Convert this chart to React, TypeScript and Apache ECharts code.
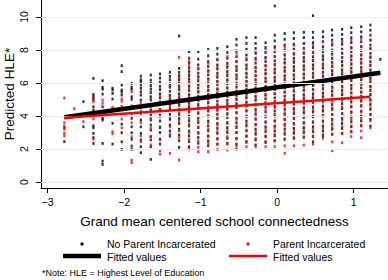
import React, { useEffect, useRef } from "react";
import * as echarts from "echarts";

const colX = [-2.78, -2.65, -2.53, -2.40, -2.28, -2.15, -2.03, -1.90, -1.78, -1.65, -1.53, -1.40, -1.28, -1.15, -1.03, -0.90, -0.78, -0.65, -0.53, -0.40, -0.28, -0.15, -0.03, 0.10, 0.22, 0.35, 0.47, 0.60, 0.72, 0.85, 0.97, 1.10, 1.22, 1.35];

const blackY: number[][] = [
  [2.45, 3.3],
  [],
  [4.87, 3.35],
  [6.28, 5.31, 5.17, 5.03, 4.56, 4.36, 3.41, 3.29, 2.95, 2.69, 2.34],
  [6.14, 5.74, 5.62, 5.33, 4.56, 3.86, 3.76, 2.34, 1.27, 1.07],
  [5.68, 5.58, 5.37, 5.03, 4.45, 3.56, 2.3],
  [7.05, 6.69, 5.88, 5.58, 5.45, 5.27, 4.56, 3.51, 2.99, 2.44, 1.98],
  [5.98, 5.75, 5.62, 5.17, 5.01, 4.16, 3.86, 3.35, 2.99, 2.59, 2.18, 1.98],
  [6.42, 6.2, 6.08, 5.88, 5.68, 5.47, 5.27, 4.97, 4.56, 4.16, 3.76, 3.35, 2.95, 2.55, 2.14, 1.78],
  [6.48, 6.18, 5.98, 5.82, 5.62, 5.42, 5.17, 4.97, 4.67, 4.36, 4.06, 3.76, 3.45, 3.15, 2.75, 2.55, 2.14, 1.37],
  [6.55, 6.3, 6.05, 5.8, 5.6, 5.35, 5.1, 4.85, 4.4, 4.05, 3.7, 3.3, 3.0, 2.6, 2.3],
  [6.65, 6.4, 6.2, 5.95, 5.75, 5.5, 5.25, 5.0, 4.7, 4.45, 4.1, 3.8, 3.45, 3.1, 2.79],
  [8.85, 6.89, 6.65, 6.45, 6.2, 6.0, 5.8, 5.6, 5.35, 5.1, 4.9, 4.65, 4.4, 4.1, 3.85, 3.55, 3.2, 2.85, 2.5, 2.1],
  [7.9, 7.5, 7.2, 6.9, 6.7, 6.45, 6.25, 6.0, 5.8, 5.55, 5.3, 5.05, 4.8, 4.55, 4.25, 4.0, 3.7, 3.4, 3.1, 2.8, 2.45, 2.14],
  [7.9, 7.45, 7.1, 6.85, 6.6, 6.35, 6.15, 5.9, 5.7, 5.45, 5.2, 4.95, 4.7, 4.45, 4.2, 3.9, 3.6, 3.3, 3.0, 2.7, 2.35],
  [8.04, 7.65, 7.3, 7.0, 6.75, 6.5, 6.25, 6.0, 5.8, 5.55, 5.3, 5.05, 4.8, 4.55, 4.3, 4.0, 3.7, 3.4, 3.1, 2.8, 2.5, 2.2],
  [8.1, 7.75, 7.4, 7.1, 6.85, 6.6, 6.35, 6.1, 5.9, 5.65, 5.4, 5.15, 4.9, 4.65, 4.4, 4.1, 3.85, 3.55, 3.25, 2.95, 2.6, 2.3],
  [8.2, 7.85, 7.5, 7.2, 6.95, 6.7, 6.45, 6.2, 5.95, 5.7, 5.45, 5.2, 4.95, 4.7, 4.45, 4.15, 3.9, 3.6, 3.3, 3.0, 2.65, 2.35],
  [8.65, 8.3, 7.95, 7.6, 7.3, 7.0, 6.75, 6.5, 6.25, 6.0, 5.75, 5.5, 5.25, 5.0, 4.75, 4.5, 4.2, 3.9, 3.6, 3.3, 3.0, 2.65, 2.3, 2.0],
  [8.75, 8.4, 8.05, 7.7, 7.4, 7.1, 6.85, 6.6, 6.35, 6.1, 5.85, 5.6, 5.35, 5.1, 4.85, 4.6, 4.3, 4.0, 3.7, 3.4, 3.1, 2.8, 2.45],
  [8.75, 8.4, 8.1, 7.8, 7.5, 7.2, 6.95, 6.7, 6.45, 6.2, 5.95, 5.7, 5.45, 5.2, 4.95, 4.7, 4.4, 4.1, 3.8, 3.5, 3.2, 2.9, 2.55, 2.25],
  [8.44, 8.15, 7.85, 7.55, 7.3, 7.05, 6.8, 6.55, 6.3, 6.05, 5.8, 5.55, 5.3, 5.05, 4.8, 4.55, 4.25, 3.95, 3.65, 3.35, 3.05, 2.75, 2.4],
  [10.67, 8.9, 8.55, 8.2, 7.9, 7.6, 7.35, 7.1, 6.85, 6.6, 6.35, 6.1, 5.85, 5.6, 5.35, 5.1, 4.85, 4.6, 4.3, 4.0, 3.7, 3.4, 3.1, 2.8, 2.5],
  [9.0, 8.65, 8.3, 8.0, 7.7, 7.45, 7.2, 6.95, 6.7, 6.45, 6.2, 5.95, 5.7, 5.45, 5.2, 4.95, 4.7, 4.4, 4.1, 3.8, 3.5, 3.2, 2.9, 2.6],
  [9.05, 8.7, 8.35, 8.05, 7.75, 7.5, 7.25, 7.0, 6.75, 6.5, 6.25, 6.0, 5.75, 5.5, 5.25, 5.0, 4.75, 4.45, 4.15, 3.85, 3.55, 3.25, 2.95, 2.65],
  [9.07, 8.75, 8.4, 8.1, 7.8, 7.55, 7.3, 7.05, 6.8, 6.55, 6.3, 6.05, 5.8, 5.55, 5.3, 5.05, 4.8, 4.5, 4.2, 3.9, 3.6, 3.3, 3.0, 2.7],
  [10.08, 9.07, 8.75, 8.45, 8.15, 7.85, 7.6, 7.35, 7.1, 6.85, 6.6, 6.35, 6.1, 5.85, 5.6, 5.35, 5.1, 4.85, 4.55, 4.25, 3.95, 3.65, 3.35, 3.05, 2.75, 2.44],
  [9.11, 8.8, 8.5, 8.2, 7.9, 7.65, 7.4, 7.15, 6.9, 6.65, 6.4, 6.15, 5.9, 5.65, 5.4, 5.15, 4.9, 4.6, 4.3, 4.0, 3.7, 3.4, 3.1, 2.8],
  [9.21, 8.9, 8.6, 8.3, 8.0, 7.75, 7.5, 7.25, 7.0, 6.75, 6.5, 6.25, 6.0, 5.75, 5.5, 5.25, 5.0, 4.7, 4.4, 4.1, 3.8, 3.5, 3.2, 2.9],
  [9.25, 8.95, 8.65, 8.35, 8.05, 7.8, 7.55, 7.3, 7.05, 6.8, 6.55, 6.3, 6.05, 5.8, 5.55, 5.3, 5.05, 4.75, 4.45, 4.15, 3.85, 3.55, 3.25, 2.95],
  [9.35, 9.05, 8.75, 8.45, 8.15, 7.9, 7.65, 7.4, 7.15, 6.9, 6.65, 6.4, 6.15, 5.9, 5.65, 5.4, 5.15, 4.85, 4.55, 4.25, 3.95, 3.65, 3.35, 3.05],
  [9.41, 9.1, 8.8, 8.5, 8.2, 7.95, 7.7, 7.45, 7.2, 6.95, 6.7, 6.45, 6.2, 5.95, 5.7, 5.45, 5.2, 4.9, 4.6, 4.3, 4.0, 3.7, 3.4],
  [9.51, 9.2, 8.9, 8.6, 8.3, 8.05, 7.8, 7.55, 7.3, 7.05, 6.8, 6.55, 6.3, 6.05, 5.8, 5.55, 5.3, 5.0, 4.7, 4.4, 4.1, 3.8, 3.39],
  [7.43],
];

const redY: number[][] = [
  [5.1, 3.6, 3.4, 3.2, 2.95, 2.8],
  [4.45],
  [3.66],
  [4.97, 4.87, 3.82, 2.59],
  [4.97, 4.77],
  [4.52, 3.05, 2.93],
  [5.03, 4.9, 3.82, 3.29],
  [5.47, 4.61, 3.6, 2.75, 1.33, 1.17],
  [4.8, 4.3, 3.6, 2.8, 2.45],
  [5.07, 4.55, 3.86, 3.25, 2.75, 2.25],
  [5.2, 4.8, 4.4, 3.95, 3.35, 2.55, 1.9, 1.7],
  [5.8, 5.15, 4.55, 3.95, 3.35, 2.9, 1.74],
  [7.55, 6.3, 5.7, 5.2, 4.75, 4.2, 3.7, 3.1, 2.7, 1.33],
  [7.3, 7.0, 6.55, 6.1, 5.65, 5.15, 4.7, 4.3, 3.85, 3.5, 3.0, 2.6, 2.0],
  [6.9, 6.4, 5.95, 5.5, 5.0, 4.6, 4.15, 3.75, 3.35, 2.95, 2.5, 2.1, 1.84],
  [7.2, 6.7, 6.2, 5.75, 5.3, 4.85, 4.4, 4.0, 3.6, 3.2, 2.75, 2.35, 1.84],
  [7.45, 6.95, 6.5, 6.05, 5.6, 5.15, 4.7, 4.3, 3.9, 3.45, 3.05, 2.65, 2.3, 1.98],
  [7.6, 7.1, 6.6, 6.15, 5.7, 5.25, 4.8, 4.4, 4.0, 3.55, 3.15, 2.75, 2.3, 1.94],
  [7.8, 7.3, 6.85, 6.4, 5.95, 5.5, 5.05, 4.6, 4.2, 3.8, 3.4, 3.0, 2.6, 2.2],
  [8.0, 7.5, 7.0, 6.55, 6.1, 5.65, 5.2, 4.75, 4.35, 3.95, 3.55, 3.15, 2.75, 2.4, 2.14],
  [7.9, 7.4, 6.9, 6.45, 6.0, 5.55, 5.1, 4.65, 4.25, 3.85, 3.45, 3.05, 2.65, 2.14],
  [8.0, 7.5, 7.05, 6.6, 6.15, 5.7, 5.25, 4.8, 4.4, 4.0, 3.6, 3.2, 2.8, 2.45, 2.14],
  [8.1, 7.6, 7.15, 6.7, 6.25, 5.8, 5.35, 4.9, 4.5, 4.1, 3.7, 3.3, 2.9, 2.5, 2.14],
  [8.2, 7.7, 7.25, 6.8, 6.35, 5.9, 5.45, 5.0, 4.6, 4.2, 3.8, 3.4, 3.0, 2.6, 2.2, 1.74],
  [8.3, 7.8, 7.35, 6.9, 6.45, 6.0, 5.55, 5.1, 4.7, 4.3, 3.9, 3.5, 3.1, 2.7, 2.2],
  [8.4, 7.9, 7.4, 6.95, 6.5, 6.05, 5.6, 5.15, 4.75, 4.35, 3.95, 3.55, 3.15, 2.75, 2.24],
  [8.3, 7.85, 7.4, 6.95, 6.5, 6.05, 5.6, 5.2, 4.8, 4.4, 4.0, 3.6, 3.2, 2.8, 2.3],
  [8.5, 8.0, 7.5, 7.05, 6.6, 6.15, 5.7, 5.25, 4.85, 4.45, 4.05, 3.65, 3.25, 2.9, 2.65],
  [8.4, 7.95, 7.5, 7.05, 6.6, 6.15, 5.7, 5.3, 4.9, 4.5, 4.1, 3.7, 3.3, 2.9, 2.44, 1.9],
  [8.5, 8.0, 7.55, 7.1, 6.65, 6.2, 5.75, 5.35, 4.95, 4.55, 4.15, 3.75, 3.35, 2.95, 2.38],
  [8.6, 8.1, 7.6, 7.15, 6.7, 6.25, 5.8, 5.4, 5.0, 4.6, 4.2, 3.8, 3.4, 3.05, 2.75],
  [8.7, 8.2, 7.7, 7.25, 6.8, 6.35, 5.9, 5.45, 5.05, 4.65, 4.25, 3.85, 3.45, 3.1, 2.69],
  [8.6, 8.1, 7.6, 7.1, 6.65, 6.2, 5.75, 5.3, 4.9, 4.5, 4.1, 3.7, 3.29],
  [],
];

const fitBlack = [[-2.78, 3.93], [1.35, 6.62]];
const fitRed = [[-2.78, 3.9], [1.22, 5.17]];

const xTicks = [-3, -2, -1, 0, 1];
const yTicks = [0, 2, 4, 6, 8, 10];

const legendNames = ["No Parent Incarcerated", "Parent Incarcerated", "Fitted values", "Fitted values"];
const noteText = "*Note: HLE = Highest Level of Education";

const FONT = "'Liberation Sans', Arial, Helvetica, sans-serif";

export default function App() {
  const ref = useRef<HTMLDivElement>(null);
  useEffect(() => {
    if (!ref.current) return;
    const chart = echarts.init(ref.current, null, { renderer: "svg" });
    const toPts = (cols: number[][]) =>
      cols.flatMap((ys, i) => ys.map((y) => [colX[i], y]));
    const fmt = (v: number) => String(v).replace("-", "\u2212");
    chart.setOption({
      animation: false,
      backgroundColor: "#ffffff",
      textStyle: { fontFamily: FONT },
      grid: { left: 41, right: 0, top: 0, bottom: 92, containLabel: false, outerBoundsMode: "none" },
      xAxis: {
        type: "value",
        min: -3.085,
        max: 1.45,
        name: "Grand mean centered school connectedness",
        nameLocation: "middle",
        nameGap: 26,
        nameMoveOverlap: false,
        nameTextStyle: { fontSize: 13.5, color: "#000", fontFamily: FONT },
        axisLine: { show: true, onZero: false, lineStyle: { color: "#000", width: 1 } },
        axisTick: { show: true, length: 5, customValues: xTicks, lineStyle: { color: "#000" } },
        axisLabel: { customValues: xTicks, formatter: fmt, fontSize: 10.5, color: "#000", margin: 8, fontFamily: FONT },
        splitLine: { show: false },
      },
      yAxis: {
        type: "value",
        min: -0.36,
        max: 11.03,
        name: "Predicted HLE*",
        nameLocation: "middle",
        nameRotate: 90,
        nameGap: 32,
        nameMoveOverlap: false,
        nameTextStyle: { fontSize: 13.5, lineHeight: 14, color: "#000", fontFamily: FONT, align: "center", verticalAlign: "middle" },
        axisLine: { show: true, onZero: false, lineStyle: { color: "#000", width: 1 } },
        axisTick: { show: true, length: 5, customValues: yTicks, lineStyle: { color: "#000" } },
        axisLabel: { customValues: yTicks, rotate: 90, align: "center", verticalAlign: "middle", fontSize: 10.5, color: "#000", margin: 17, fontFamily: FONT },
        splitLine: { show: false },
      },
      series: [
        {
          type: "line",
          data: [],
          z: 1,
          markLine: {
            silent: true,
            symbol: "none",
            label: { show: false },
            lineStyle: { color: "#e3edf1", width: 1.2, type: "solid" },
            data: yTicks.map((v) => ({ yAxis: v })),
          },
        },
        {
          type: "scatter",
          name: legendNames[0],
          data: toPts(blackY),
          symbol: "rect",
          symbolSize: [2.2, 2.8],
          itemStyle: { color: "#000" },
          z: 2,
        },
        {
          type: "scatter",
          name: legendNames[1],
          data: toPts(redY),
          symbol: "rect",
          symbolSize: [2.2, 2.8],
          itemStyle: { color: "#ff0000" },
          z: 3,
        },
        {
          type: "line",
          name: legendNames[2],
          data: fitBlack,
          showSymbol: false,
          lineStyle: { color: "#000", width: 4.5 },
          z: 4,
        },
        {
          type: "line",
          name: legendNames[3],
          data: fitRed,
          showSymbol: false,
          lineStyle: { color: "#ff0000", width: 2.6 },
          z: 5,
        },
      ],
      graphic: [
        { type: "circle", shape: { cx: 82, cy: 244, r: 1.6 }, style: { fill: "#000" } },
        { type: "text", x: 107, y: 244, style: { text: legendNames[0], font: `10.5px ${FONT}`, fill: "#000", verticalAlign: "middle" } },
        { type: "circle", shape: { cx: 248, cy: 244, r: 1.6 }, style: { fill: "#ff0000" } },
        { type: "text", x: 273, y: 244, style: { text: legendNames[1], font: `10.5px ${FONT}`, fill: "#000", verticalAlign: "middle" } },
        { type: "line", shape: { x1: 63, y1: 256, x2: 101, y2: 256 }, style: { stroke: "#000", lineWidth: 4.5 } },
        { type: "text", x: 107, y: 257, style: { text: legendNames[2], font: `10.5px ${FONT}`, fill: "#000", verticalAlign: "middle" } },
        { type: "line", shape: { x1: 229, y1: 256, x2: 267, y2: 256 }, style: { stroke: "#ff0000", lineWidth: 2.6 } },
        { type: "text", x: 273, y: 257, style: { text: legendNames[3], font: `10.5px ${FONT}`, fill: "#000", verticalAlign: "middle" } },
        { type: "text", x: 42, y: 273, style: { text: noteText, font: `9px ${FONT}`, fill: "#000", verticalAlign: "middle" } },
      ],
    });
    return () => chart.dispose();
  }, []);
  return (
    <div
      ref={ref}
      style={{ position: "fixed", left: 0, top: 0, width: 388, height: 280, background: "#fff" }}
    />
  );
}
